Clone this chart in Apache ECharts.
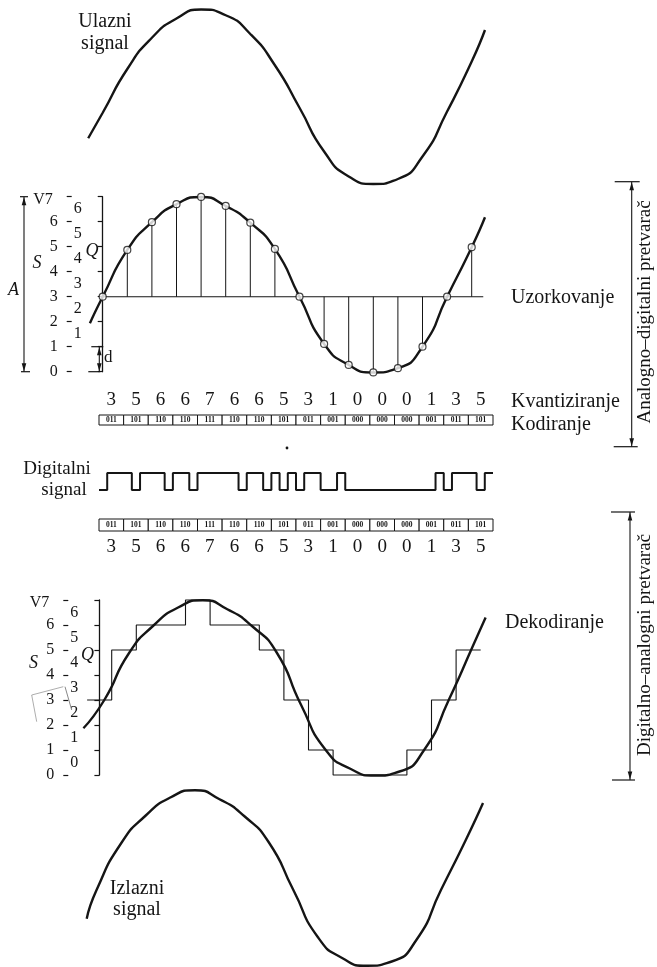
<!DOCTYPE html>
<html><head><meta charset="utf-8">
<script src="https://cdn.jsdelivr.net/npm/echarts@6/dist/echarts.min.js"></script>
<style>html,body{margin:0;padding:0;background:#fff}#c{width:657px;height:967px}</style>
</head><body><div id="c"></div>
<script>
// ---------------- data ----------------
const quantized = [3,5,6,6,7,6,6,5,3,1,0,0,0,1,3,5];
const codes = ['011','101','110','110','111','110','110','101','011','001','000','000','000','001','011','101'];
const samples = [3.0,4.87,5.98,6.70,6.99,6.63,5.96,4.91,3.0,1.11,0.27,-0.03,0.14,1.0,3.0,4.98];
const sampledCurve = [[-0.52,1.94],[0,3.0],[1,4.87],[2,5.98],[3,6.70],[4,6.99],[5,6.63],[6,5.96],[7,4.91],[8,3.0],[9,1.11],[10,0.27],[11,-0.03],[12,0.14],[13,1.0],[14,3.0],[15,4.98],[15.54,6.18]];
const inputCurve = [[-0.59,1.83],[0,2.85],[1,4.6],[2,5.85],[3,6.62],[4,6.98],[5,6.75],[6,6.0],[7,4.75],[8,3.05],[9,1.3],[10,0.3],[11,0.0],[12,0.2],[13,1.1],[14,2.9],[15,4.9],[15.54,6.16]];
const decodedCurve = [[-0.65,1.87],[0.2,3.0],[1.2,4.87],[2.2,5.98],[3.2,6.70],[4.2,6.99],[5.2,6.63],[6.2,5.96],[7.2,4.91],[8.2,2.8],[9.2,1.0],[10.2,0.25],[11.2,-0.02],[12.2,0.14],[13.2,1.0],[14.2,3.0],[15.2,5.2],[15.7,6.3]];
const outputCurve = [[-0.65,1.85],[-0.25,3.0],[0.75,4.87],[1.75,5.98],[2.75,6.70],[3.75,6.99],[4.75,6.63],[5.75,5.96],[6.75,4.91],[7.75,3.0],[8.75,1.11],[9.75,0.27],[10.75,-0.03],[11.75,0.14],[12.75,1.0],[13.75,3.0],[14.75,4.98],[15.46,6.48]];
const baselineLevel = 3;
const baselineSpan = [-0.12, 15.47];
const vLabels = ['0','1','2','3','4','5','6','V7'];
const qLabels = ['0','1','2','3','4','5','6'];
const bits = codes.join('').split('').map(Number);

// ---------------- layout ----------------
const INK = '#151515';
const FF = '"Liberation Serif","Times New Roman",serif';
const DX = 24.6, LV = 25;
function sigGrid(x0, top){ return {left: x0 - DX, top: top, width: 17*DX, height: 7*LV}; }

const chart = echarts.init(document.getElementById('c'));

function hiddenX(g, min, max){ return {type:'value', gridIndex:g, min:min, max:max, show:false}; }
function hiddenY(g, min, max){ return {type:'value', gridIndex:g, min:min, max:max, show:false}; }
function vAxes(g, off, showQ0){
  return [
    {type:'value', gridIndex:g, min:0, max:7, interval:1, position:'left', offset:off,
     axisLine:{show:true, lineStyle:{color:INK, width:1.3}},
     axisTick:{show:true, length:5, lineStyle:{color:INK, width:1.2}},
     splitLine:{show:false},
     axisLabel:{margin:9, color:INK, fontSize:16, fontFamily:FF,
       formatter:function(v){ return v===7 ? '{t|'+vLabels[v]+'}' : vLabels[v]; },
       rich:{t:{fontSize:16, fontFamily:FF, color:INK, padding:[6,5,0,0]}}}},
    {type:'value', gridIndex:g, min:0, max:7, interval:1, position:'left', offset:off,
     axisLine:{show:false}, axisTick:{show:true, inside:true, length:5, lineStyle:{color:INK, width:1.2}},
     axisLabel:{show:false}, splitLine:{show:false}},
    {type:'category', gridIndex:g, data:qLabels, position:'left', offset:off,
     axisLine:{show:false}, axisTick:{show:false}, splitLine:{show:false},
     axisLabel:{inside:true, margin:7, color:INK, fontSize:16, fontFamily:FF,
       formatter:function(v){ return (!showQ0 && v==='0') ? '' : v; }}}
  ];
}

function boxRender(params, api){
  const c = api.coord([api.value(0), 0]);
  const s = api.size([1, 1]);
  return {type:'group', children:[
    {type:'rect', shape:{x:c[0]-s[0]/2, y:c[1]-s[1], width:s[0], height:s[1]},
     style:{fill:'#fff', stroke:INK, lineWidth:1}},
    {type:'text', style:{text:codes[params.dataIndex], x:c[0], y:c[1]-s[1]/2+0.5,
     align:'center', verticalAlign:'middle', font:'bold 7.5px '+FF, fill:INK}}
  ]};
}

const codeX = function(g, pos, margin){
  return {type:'category', gridIndex:g, data:quantized.map(String), position:pos,
    axisLine:{show:false}, axisTick:{show:false}, splitLine:{show:false},
    axisLabel:{margin:margin, color:INK, fontSize:19, fontFamily:FF, interval:0}};
};

const curveStyle = {color:INK, width:2.4};
const SM = 0.6;

const option = {
  backgroundColor:'#fff',
  animation:false,
  grid:[
    sigGrid(102.7, 9),          //0 input
    sigGrid(102.7, 196.7),      //1 sampling
    {left:99, top:415, width:394, height:10},   //2 codes top
    {left:99, top:473, width:394, height:17},   //3 digital
    {left:99, top:519, width:394, height:12},   //4 codes bottom
    sigGrid(99.4, 600),         //5 decoding
    sigGrid(102.7, 790)         //6 output
  ],
  xAxis:[
    hiddenX(0,-1,16), hiddenX(1,-1,16), codeX(2,'top',5), hiddenX(3,0,bits.length),
    codeX(4,'bottom',7), hiddenX(5,-1,16), hiddenX(6,-1,16)
  ],
  yAxis:[].concat(
    [hiddenY(0,0,7)],            //0
    vAxes(1, 11.4, false),       //1,2,3
    [hiddenY(2,0,1)],            //4
    [hiddenY(3,0,1)],            //5
    [hiddenY(4,0,1)],            //6
    vAxes(5, 11.5, true),        //7,8,9
    [hiddenY(6,0,7)]             //10
  ),
  series:[
    {type:'line', xAxisIndex:0, yAxisIndex:0, data:inputCurve, smooth:SM, symbol:'none', lineStyle:curveStyle, clip:false},
    {type:'line', xAxisIndex:1, yAxisIndex:1, data:[[baselineSpan[0],baselineLevel],[baselineSpan[1],baselineLevel]], symbol:'none', lineStyle:{color:INK, width:1.1}, clip:false},
    {type:'custom', xAxisIndex:1, yAxisIndex:1, data:samples.map(function(v,i){return [i,v];}), clip:false,
     renderItem:function(p, api){
       const a = api.coord([api.value(0), baselineLevel]);
       const b = api.coord([api.value(0), api.value(1)]);
       return {type:'line', shape:{x1:a[0], y1:a[1], x2:b[0], y2:b[1]}, style:{stroke:INK, lineWidth:1}};
     }},
    {type:'line', xAxisIndex:1, yAxisIndex:1, data:sampledCurve, smooth:SM, symbol:'none', lineStyle:curveStyle, clip:false, z:3},
    {type:'scatter', xAxisIndex:1, yAxisIndex:1, data:samples.map(function(v,i){return [i,v];}), symbolSize:7,
     itemStyle:{color:'#fff', borderColor:INK, borderWidth:1.2}, z:5, clip:false},
    {type:'custom', xAxisIndex:2, yAxisIndex:4, data:codes.map(function(c,i){return [i,1];}), renderItem:boxRender, clip:false},
    {type:'line', xAxisIndex:3, yAxisIndex:5, data:bits.map(function(b,k){return [k,b];}).concat([[bits.length, bits[bits.length-1]]]),
     step:'end', symbol:'none', lineStyle:{color:INK, width:2}, clip:false},
    {type:'custom', xAxisIndex:4, yAxisIndex:6, data:codes.map(function(c,i){return [i,1];}), renderItem:boxRender, clip:false},
    {type:'line', xAxisIndex:5, yAxisIndex:7, data:quantized.map(function(q,i){return [i-0.5,q];}).concat([[quantized.length-0.5, quantized[quantized.length-1]]]),
     step:'end', symbol:'none', lineStyle:{color:INK, width:1.1}, clip:false},
    {type:'line', xAxisIndex:5, yAxisIndex:7, data:decodedCurve, smooth:SM, symbol:'none', lineStyle:curveStyle, clip:false, z:3},
    {type:'line', xAxisIndex:6, yAxisIndex:10, data:outputCurve, smooth:SM, symbol:'none', lineStyle:curveStyle, clip:false}
  ]
};
chart.setOption(option);

// ---------------- annotations ----------------
function yAt(g, level){ return chart.convertToPixel({gridIndex:g}, [0, level])[1]; }
function txt(s, x, y, size, opts){
  opts = opts || {};
  return {type:'text', x:x, y:y, rotation:opts.rot||0, z:10,
    style:{text:s, font:(opts.italic?'italic ':'')+(opts.bold?'bold ':'')+size+'px '+FF, fill:INK,
      textAlign:opts.align||'left', align:opts.align||'left', textVerticalAlign:'middle', verticalAlign:'middle'}};
}
function seg(x1,y1,x2,y2,w,col){ return {type:'line', z:10, shape:{x1:x1,y1:y1,x2:x2,y2:y2}, style:{stroke:col||INK, lineWidth:w||1}}; }
function tri(x, y, dir){
  return {type:'polygon', z:10, shape:{points:[[x,y],[x-2.3,y-dir*8],[x+2.3,y-dir*8]]}, style:{fill:INK}};
}
function bracket(x, yTop, yBot, tl, tr, bl, br){
  return [seg(x,yTop,x,yBot,1.1), seg(x-tl,yTop,x+tr,yTop,1.2), seg(x-bl,yBot,x+br,yBot,1.2),
          tri(x,yTop+0.5,-1), tri(x,yBot-0.5,1)];
}

const g = [];
g.push(txt('Ulazni', 105, 22, 20, {align:'center'}));
g.push(txt('signal', 105, 43.5, 20, {align:'center'}));
const s0 = yAt(1,0), s1 = yAt(1,1), s7 = yAt(1,7);
g.push.apply(g, bracket(24, s7, s0, 4, 4, 3, 6));
g.push.apply(g, bracket(99.3, s1, s0, 8, 4, 11, 1));
g.push(txt('A', 13.5, yAt(1,3.25), 18, {italic:true, align:'center'}));
g.push(txt('S', 37, yAt(1,4.35), 18, {italic:true, align:'center'}));
g.push(txt('Q', 92, yAt(1,4.82), 18, {italic:true, align:'center'}));
g.push(txt('d', 104, yAt(1,0.55), 17, {}));
g.push(txt('Uzorkovanje', 511, 298, 20));
g.push(txt('Kvantiziranje', 511, 401.5, 20));
g.push(txt('Kodiranje', 511, 425, 20));
g.push.apply(g, bracket(631.7, 181.7, 446.7, 17, 8, 18, 6));
g.push(txt('Analogno\u2013digitalni pretvara\u010d', 645, 312, 19, {align:'center', rot:Math.PI/2}));
g.push(txt('Digitalni', 57, 469, 19, {align:'center'}));
g.push(txt('signal', 64, 490, 19, {align:'center'}));
g.push({type:'circle', z:10, shape:{cx:287, cy:448, r:1.4}, style:{fill:INK}});
g.push(txt('S', 33.5, yAt(5,4.48), 18, {italic:true, align:'center'}));
g.push(txt('Q', 87.5, yAt(5,4.8), 18, {italic:true, align:'center'}));
g.push(txt('Dekodiranje', 505, 623, 20));
g.push(seg(31.7,695,63.3,686.7,0.7,'#8a8a8a'));
g.push(seg(31.7,695,36.7,721.7,0.7,'#8a8a8a'));
g.push(seg(65,686.7,71.7,710,0.8,'#6a6a6a'));
g.push.apply(g, bracket(630, 512, 780, 19, 5, 18, 5));
g.push(txt('Digitalno\u2013analogni pretvara\u010d', 645, 645, 19, {align:'center', rot:Math.PI/2}));
g.push(txt('Izlazni', 137, 889, 20, {align:'center'}));
g.push(txt('signal', 137, 910, 20, {align:'center'}));

chart.setOption({graphic:g});
</script>
</body></html>
